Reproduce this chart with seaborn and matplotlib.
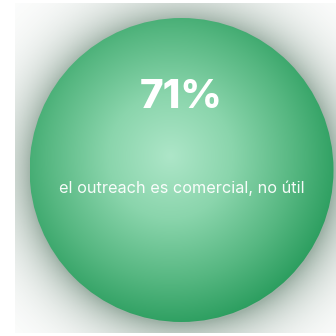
import numpy as np
import matplotlib
matplotlib.use("Agg")
import matplotlib.pyplot as plt
import seaborn as sns
from matplotlib.colors import LinearSegmentedColormap
from matplotlib.patches import Circle

# Stat shown in the bubble
share_pct = [71]
caption = ["el outreach es comercial, no útil"]

sns.set_theme(style="white")
plt.rcParams["font.family"] = ["Inter", "DejaVu Sans"]

W = H = 336
fig = plt.figure(figsize=(3.36, 3.36), dpi=100)
fig.patch.set_facecolor("white")
ax = fig.add_axes([0, 0, 1, 1])
ax.set_xlim(0, W)
ax.set_ylim(H, 0)
ax.set_axis_off()

cx, cy, r = 181.5, 170.0, 152.0

# soft drop shadow around the bubble, clipped to its card
x0, x1, y0, y1 = 15, 336, 3, 333
xs = np.linspace(x0, x1, 400)
ys = np.linspace(y0, y1, 400)
X, Y = np.meshgrid(xs, ys)
d = np.hypot(X - (cx + 1), Y - (cy + 2)) - r
shadow_alpha = 0.55 * np.exp(-np.clip(d, 0, None) / 26.0)
shadow = np.zeros(X.shape + (4,))
shadow[..., 0] = 80 / 255
shadow[..., 1] = 115 / 255
shadow[..., 2] = 95 / 255
shadow[..., 3] = shadow_alpha
ax.imshow(shadow, extent=[x0, x1, y1, y0], origin="upper", zorder=1,
          interpolation="bilinear")

# radial gradient fill of the bubble
green = LinearSegmentedColormap.from_list(
    "bubble",
    [(0.0, "#ade6c8"), (0.35, "#8ad5ac"), (0.7, "#56b781"), (1.0, "#259a5a")])
gx = np.linspace(cx - r, cx + r, 500)
gy = np.linspace(cy - r, cy + r, 500)
GX, GY = np.meshgrid(gx, gy)
hx, hy = 170.0, 156.0
dist = np.hypot(GX - hx, GY - hy) / 178.0
img = ax.imshow(np.clip(dist, 0, 1), cmap=green, vmin=0, vmax=1,
                extent=[cx - r, cx + r, cy + r, cy - r], origin="upper",
                zorder=2, interpolation="bilinear")
clip = Circle((cx, cy), r, transform=ax.transData)
img.set_clip_path(clip)

ax.text(cx, 97, f"{share_pct[0]}%", ha="center", va="center", color="white",
        fontsize=29, fontweight="heavy", zorder=3)
ax.text(cx, 188, caption[0], ha="center", va="center", color="white",
        alpha=0.95, fontsize=11.7, zorder=3)

fig.savefig("out.png", dpi=100, facecolor="white")
